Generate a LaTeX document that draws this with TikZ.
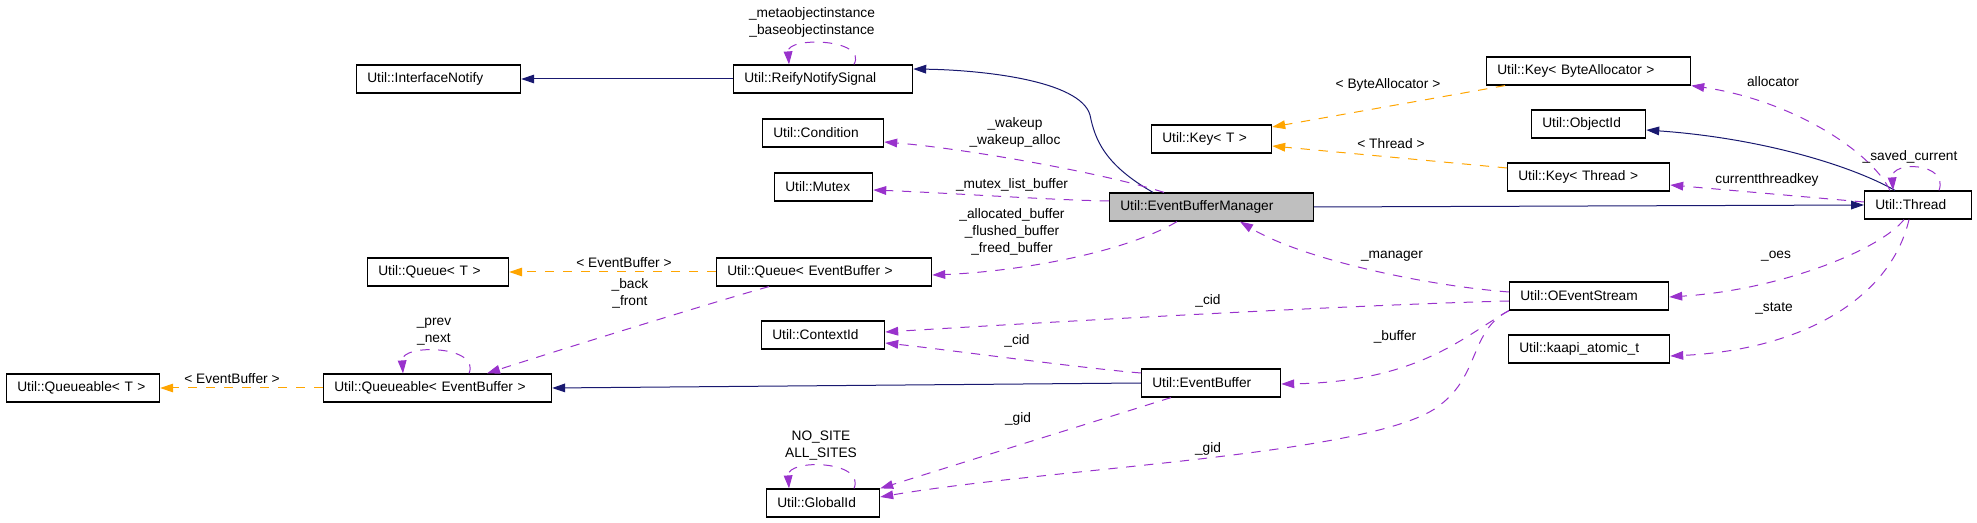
\documentclass[tikz,border=0pt]{standalone}
\usepackage{fontspec}
\setmainfont{Liberation Sans}
\usepackage{tikz}
\usetikzlibrary{arrows.meta,calc}
\definecolor{inhnavy}{RGB}{25,25,112}
\definecolor{depviolet}{RGB}{153,50,204}
\definecolor{tmplorange}{RGB}{255,165,0}
\definecolor{curgray}{RGB}{191,191,191}

\begin{document}
\begin{tikzpicture}[x=0.75pt,y=-0.75pt,font=\fontsize{10.3}{12.75}\selectfont,
  cls/.style={draw,line width=0.9pt,anchor=west,minimum height=21pt,
    inner xsep=8pt,inner ysep=0pt,text width=#1*0.75pt-16pt,align=left},
  inh/.style={draw=inhnavy,line width=0.75pt,-{Triangle[length=9.75pt,width=6.5pt]}},
  dep/.style={draw=depviolet,line width=0.75pt,dash pattern=on 7pt off 6.5pt,
    -{Triangle[length=9.75pt,width=6.5pt]}},
  tmpl/.style={draw=tmplorange,line width=0.75pt,dash pattern=on 7pt off 6.5pt,
    -{Triangle[length=9.75pt,width=6.5pt]}},
  lbl/.style={inner sep=0pt,align=center}]
  \useasboundingbox (0,0) rectangle (1977,523);
  % classes
  \node[cls=164] (infn) at (356,79) {Util::InterfaceNotify};
  \node[cls=179] (reify) at (733,79) {Util::ReifyNotifySignal};
  \node[cls=121] (cond) at (762,133) {Util::Condition};
  \node[cls=98] (mutex) at (774,187) {Util::Mutex};
  \node[cls=204,fill=curgray] (ebm) at (1109,207) {Util::EventBufferManager};
  \node[cls=120] (keyT) at (1151,139) {Util::Key< T >};
  \node[cls=215] (queueEB) at (716,272) {Util::Queue< EventBuffer >};
  \node[cls=141] (queueT) at (367,272) {Util::Queue< T >};
  \node[cls=228] (qableEB) at (323,388) {Util::Queueable< EventBuffer >};
  \node[cls=153] (qableT) at (6,388) {Util::Queueable< T >};
  \node[cls=123] (ctx) at (761,335) {Util::ContextId};
  \node[cls=139] (evbuf) at (1141,383) {Util::EventBuffer};
  \node[cls=113] (gid) at (766,503) {Util::GlobalId};
  \node[cls=204] (keyBA) at (1486,71) {Util::Key< ByteAllocator >};
  \node[cls=114] (objid) at (1531,124) {Util::ObjectId};
  \node[cls=162] (keyTh) at (1507,177) {Util::Key< Thread >};
  \node[cls=107] (thread) at (1864,205) {Util::Thread};
  \node[cls=159] (oes) at (1509,296) {Util::OEventStream};
  \node[cls=161] (kaapi) at (1508,349) {Util::kaapi\_atomic\_t};
  % inheritance
  \draw[inh] (reify.west) -- (infn.east);
  \draw[inh] ($(ebm.north west)+(44,0)$) .. controls (1105,165) and (1095,140) .. (1090,115)
       .. controls (1080,80) and (980,70) .. ($(reify.east)+(0,-10)$);
  \draw[inh] (ebm.east) -- (thread.west);
  \draw[inh] (evbuf.west) -- (qableEB.east);
  \draw[inh] ($(thread.north west)+(31,0)$) .. controls (1850,165) and (1760,138) .. ($(objid.east)+(0,6)$);
  % template instances
  \draw[tmpl] (queueEB.west) -- (queueT.east);
  \draw[tmpl] (qableEB.west) -- (qableT.east);
  \draw[tmpl] ($(keyBA.south west)+(19,0)$) -- ($(keyT.east)+(0,-12)$);
  \draw[tmpl] ($(keyTh.west)+(0,-9)$) -- ($(keyT.east)+(0,7)$);
  \node[lbl] (lqueue) at (624,263) {< EventBuffer >};
  \node[lbl] (lqable) at (232,379) {< EventBuffer >};
  \node[lbl] (lbyte) at (1388,85) {< ByteAllocator >};
  \node[lbl] (lthr) at (1391,144) {< Thread >};
  % members
  \draw[dep] ($(reify.north west)+(121,0)$) .. controls +(14,-26) and +(-2,-28) .. ($(reify.north west)+(56,0)$);
  \node[lbl] (lmeta) at (812,22) {\_metaobjectinstance\\\_baseobjectinstance};
  \draw[dep] ($(ebm.north west)+(55,0)$) .. controls (1100,172) and (960,148) .. ($(cond.east)+(0,9)$);
  \node[lbl] (lwake) at (1015,132.5) {\_wakeup\\\_wakeup\_alloc};
  \draw[dep] ($(ebm.west)+(0,-6)$) .. controls (1050,200) and (950,193) .. ($(mutex.east)+(0,3)$);
  \node[lbl] (lmutex) at (1012,185) {\_mutex\_list\_buffer};
  \draw[dep] ($(ebm.south west)+(68,0)$) .. controls (1120,255) and (1010,272) .. ($(queueEB.east)+(0,3)$);
  \node[lbl] (lbufs) at (1012,232) {\_allocated\_buffer\\\_flushed\_buffer\\\_freed\_buffer};
  \draw[dep] ($(queueEB.south west)+(53,0)$) .. controls (720,300) and (540,356) .. ($(qableEB.north west)+(164,0)$);
  \node[lbl] (lback) at (630,293.5) {\_back\\\_front};
  \draw[dep] ($(qableEB.north west)+(146,0)$) .. controls +(12,-28) and +(-2,-30) .. ($(qableEB.north west)+(80,0)$);
  \node[lbl] (lprev) at (434,331.5) {\_prev\\\_next};
  \draw[dep] ($(evbuf.west)+(0,-10)$) .. controls (1080,368) and (950,350) .. ($(ctx.east)+(0,8)$);
  \node[lbl] (lcid) at (1017,341) {\_cid};
  \draw[dep] ($(evbuf.south west)+(30,0)$) -- (gid.north east);
  \node[lbl] (lgid) at (1018,419) {\_gid};
  \draw[dep] ($(gid.north west)+(88,0)$) .. controls +(12,-28) and +(-2,-30) .. ($(gid.north west)+(23,0)$);
  \node[lbl] (lsite) at (821,445.5) {NO\_SITE\\ALL\_SITES};
  \draw[dep] ($(oes.west)+(0,-4)$) .. controls (1420,285) and (1300,258) .. ($(ebm.south west)+(131,0)$);
  \node[lbl] (lman) at (1392,256) {\_manager};
  \draw[dep] ($(oes.west)+(0,5)$) .. controls (1350,305) and (1050,322) .. ($(ctx.east)+(0,-3)$);
  \node[lbl] (lcid2) at (1208,301) {\_cid};
  \draw[dep] (oes.south west) .. controls (1465,335) and (1420,382) .. ($(evbuf.east)+(0,1)$);
  \node[lbl] (lbuf) at (1395,337) {\_buffer};
  \draw[dep] (oes.south west) .. controls (1470,330) and (1480,375) .. (1440,405)
       .. controls (1380,455) and (1050,468) .. ($(gid.east)+(0,-6)$);
  \node[lbl] (lgid2) at (1208,449) {\_gid};
  \draw[dep] ($(thread.north west)+(26,0)$) .. controls (1870,150) and (1790,100) .. (keyBA.south east);
  \node[lbl] (lalloc) at (1773,82) {allocator};
  \draw[dep] ($(thread.north west)+(75,0)$) .. controls +(10,-28) and +(-2,-30) .. ($(thread.north west)+(29,0)$);
  \node[lbl] (lsaved) at (1910,157) {\_saved\_current};
  \draw[dep] ($(thread.west)+(0,-3)$) -- ($(keyTh.east)+(0,8)$);
  \node[lbl] (lkey) at (1767,180) {currentthreadkey};
  \draw[dep] ($(thread.south west)+(40,0)$) .. controls (1880,250) and (1780,290) .. ($(oes.east)+(0,1)$);
  \node[lbl] (loes) at (1776,256) {\_oes};
  \draw[dep] ($(thread.south west)+(45,0)$) .. controls (1890,300) and (1800,350) .. ($(kaapi.east)+(0,7)$);
  \node[lbl] (lstate) at (1774,308) {\_state};
\end{tikzpicture}
\end{document}
